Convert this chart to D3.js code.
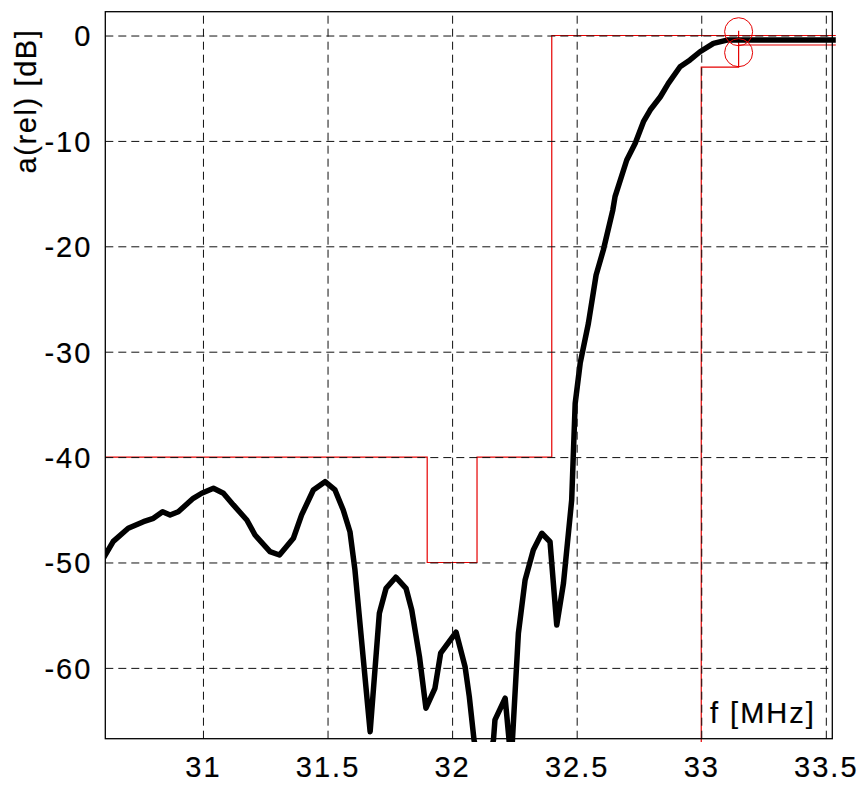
<!DOCTYPE html>
<html>
<head>
<meta charset="utf-8">
<script src="https://cdn.jsdelivr.net/npm/d3@7"></script>
<style>
  body { margin: 0; background: #fff; }
  svg text { font-family: "Liberation Sans", Arial, sans-serif; stroke: #000; stroke-width: 0.2px; }
</style>
</head>
<body>
<div class="chart"></div>
<script>
let w = 861;
let h = 785;
let padLeft = 105.3, padRight = 832.3, padTop = 11.7, padBottom = 738.7;

// measured response (MHz, dB)
const freq = [30.60, 30.640, 30.700, 30.761, 30.801, 30.838, 30.868, 30.901, 30.961, 30.995,
  31.042, 31.082, 31.122, 31.176, 31.209, 31.269, 31.307, 31.363, 31.396, 31.443,
  31.490, 31.530, 31.563, 31.590, 31.610, 31.671, 31.708, 31.735, 31.774, 31.815,
  31.838, 31.869, 31.895, 31.931, 31.954, 32.016, 32.052, 32.069, 32.088, 32.124,
  32.166, 32.172, 32.213, 32.237, 32.266, 32.293, 32.326, 32.360, 32.393, 32.420,
  32.447, 32.480, 32.494, 32.514, 32.547, 32.578, 32.607, 32.645, 32.654, 32.701,
  32.735, 32.768, 32.795, 32.836, 32.868, 32.915, 32.955, 32.995, 33.049, 33.103,
  33.156, 33.540];
const atten = [-49.6, -48.0, -46.75, -46.13, -45.81, -45.18, -45.49, -45.18, -43.91, -43.43,
  -42.96, -43.43, -44.54, -45.97, -47.39, -48.97, -49.29, -47.70, -45.49, -43.12,
  -42.33, -43.12, -45.02, -47.08, -50.71, -66.05, -54.82, -52.45, -51.40, -52.45,
  -54.51, -58.94, -63.83, -61.94, -58.61, -56.62, -59.89, -62.73, -66.84, -71.0,
  -66.84, -64.94, -62.88, -69.0, -56.72, -51.66, -48.81, -47.23, -48.03, -55.93,
  -51.97, -44.07, -34.90, -31.10, -27.31, -22.72, -20.35, -16.56, -15.29, -11.81,
  -10.23, -8.18, -7.07, -5.81, -4.54, -2.96, -2.32, -1.54, -0.74, -0.43,
  -0.42, -0.42];

// tolerance mask
const upperF = [30.60, 31.9, 31.9, 32.1, 32.1, 32.4, 32.4, 33.54];
const upperA = [-40, -40, -50, -50, -40, -40, 0, 0];
const lowerF = [33.0, 33.0, 33.15, 33.15];
const lowerA = [-70, -3, -3, 0.45];
const passF = [33.15, 33.54];
const passA = [-0.9, -0.9];
const markF = [33.15, 33.15];
const markA = [0.36, -1.63];

const xTicks = [31, 31.5, 32, 32.5, 33, 33.5];
const yTicks = [0, -10, -20, -30, -40, -50, -60];

const svg = d3.select(".chart")
              .append("svg")
              .attr("width", w)
              .attr("height", h)

const x = d3.scaleLinear()
            .domain([30.608, 33.526])
            .range([padLeft, padRight])
const y = d3.scaleLinear()
            .domain([-66.72, 2.26])
            .range([padBottom, padTop])

svg.append("clipPath")
   .attr("id", "clip")
   .append("rect")
   .attr("x", padLeft)
   .attr("y", 0)
   .attr("width", 836 - padLeft)
   .attr("height", 742)

const line = d3.line()
               .x((d) => x(d[0]))
               .y((d) => y(d[1]))
const zip = (a, b) => a.map((v, i) => [v, b[i]])

const plot = svg.append("g").attr("clip-path", "url(#clip)")

let red = "#e60000"
plot.append("path")
    .attr("d", line(zip(upperF, upperA)))
    .attr("fill", "none").attr("stroke", red).attr("stroke-width", 1.2)
plot.append("path")
    .attr("d", line(zip(lowerF, lowerA)))
    .attr("fill", "none").attr("stroke", red).attr("stroke-width", 1.2)
plot.append("path")
    .attr("d", line(zip(passF, passA)))
    .attr("fill", "none").attr("stroke", red).attr("stroke-width", 1.2)

// grid through the axes
const xAxis = d3.axisBottom(x)
                .tickValues(xTicks)
                .tickSize(-(padBottom - padTop))
                .tickPadding(17.7)
                .tickFormat((d) => String(d))
const yAxis = d3.axisLeft(y)
                .tickValues(yTicks)
                .tickSize(-(padRight - padLeft))
                .tickPadding(13)
                .tickFormat((d) => String(d))

let gx = svg.append("g")
   .attr("transform", "translate(0," + padBottom + ")")
   .call(xAxis)
let gy = svg.append("g")
   .attr("transform", "translate(" + padLeft + ",0)")
   .call(yAxis)

svg.selectAll(".domain").remove()
svg.selectAll(".tick line")
   .attr("stroke", "#111")
   .attr("stroke-width", 1)
   .attr("stroke-dasharray", "8,5")
svg.selectAll(".tick text")
   .attr("fill", "#000")
   .style("font-size", "29px")
   .style("letter-spacing", "2px")
gx.attr("font-family", null).attr("font-size", null)
gy.attr("font-family", null).attr("font-size", null)
gy.selectAll(".tick text").attr("dy", "0.36em")

plot.append("path")
    .attr("d", line(zip(freq, atten)))
    .attr("fill", "none")
    .attr("stroke", "#000")
    .attr("stroke-width", 5.5)
    .attr("stroke-linejoin", "round")

svg.selectAll(".mark")
   .data(zip(markF, markA))
   .enter()
   .append("circle")
   .attr("cx", (d) => x(d[0]))
   .attr("cy", (d) => y(d[1]))
   .attr("r", 14)
   .attr("fill", "none")
   .attr("stroke", red)
   .attr("stroke-width", 1)

// box
svg.append("rect")
   .attr("x", padLeft).attr("y", padTop)
   .attr("width", padRight - padLeft).attr("height", padBottom - padTop)
   .attr("fill", "none")
   .attr("stroke", "#000")
   .attr("stroke-width", 1.3)

svg.append("text")
   .attr("transform", "translate(36,101) rotate(-90)")
   .attr("text-anchor", "middle")
   .style("font-size", "29px")
   .style("letter-spacing", "1.6px")
   .text("a(rel) [dB]")

svg.append("text")
   .attr("x", 710)
   .attr("y", 723)
   .style("font-size", "29px")
   .style("letter-spacing", "2px")
   .text("f [MHz]")
</script>
</body>
</html>
